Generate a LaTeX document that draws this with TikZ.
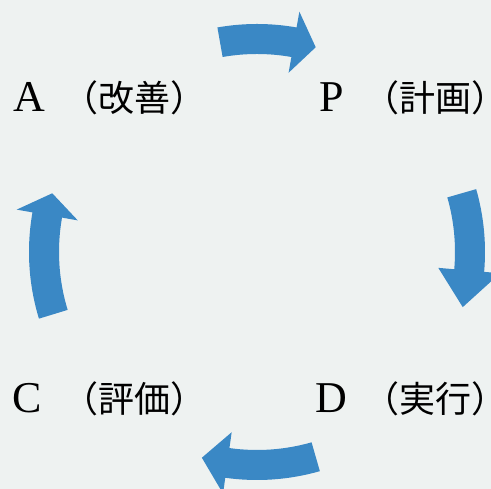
\documentclass[tikz,border=0pt]{standalone}
\usepackage{fontspec}
\setmainfont{Liberation Serif}
\newfontfamily\jpfont{Noto Sans CJK JP}
\definecolor{bg}{HTML}{EEF2F1}
\definecolor{arrowblue}{HTML}{3A88C5}
\newcommand{\cyclearrow}[3]{%
  \fill[arrowblue] (#1:228pt) arc[start angle=#1, end angle=#2, radius=228pt]
    -- (#2:244pt) -- (#3:213pt) -- (#2:182pt) -- (#2:198pt)
    arc[start angle=#2, end angle=#1, radius=198pt] -- cycle;}
\newcommand{\labtext}[3]{\makebox[#1][l]{\fontsize{44}{44}\selectfont #2}{\jpfont\fontsize{36}{36}\selectfont （#3\makebox[0.35em][l]{）}}}
\begin{document}
\begin{tikzpicture}[x=1pt,y=1pt,
  lbl/.style={inner sep=0pt, anchor=base west}]
\fill[bg] (0,0) rectangle (491,489);
\useasboundingbox (0,0) rectangle (491,489);
\begin{scope}[shift={(257pt,237pt)}]
  \cyclearrow{100}{80}{74}
  \cyclearrow{16}{-5}{-15}
  \cyclearrow{-74}{-98}{-105}
  \cyclearrow{197}{170}{164}
\end{scope}
\node[lbl] (A) at (13,377) {\labtext{49pt}{A}{改善}};
\node[lbl] (P) at (319,377) {\labtext{44pt}{P}{計画}};
\node[lbl] (D) at (315,76) {\labtext{48pt}{D}{実行}};
\node[lbl] (C) at (12,76) {\labtext{50pt}{C}{評価}};
\end{tikzpicture}
\end{document}
